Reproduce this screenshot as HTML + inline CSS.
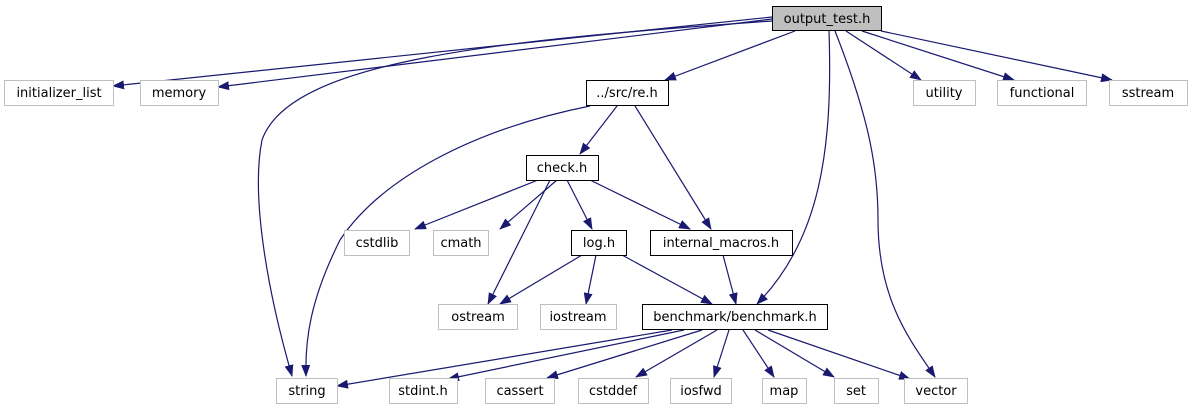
<!DOCTYPE html>
<html><head><meta charset="utf-8"><style>html,body{margin:0;padding:0;background:#fff}svg{display:block}</style></head><body>
<svg width="1191" height="411" xmlns="http://www.w3.org/2000/svg" font-family="DejaVu Sans, Liberation Sans, sans-serif" font-size="13">
<defs><marker id="a" markerWidth="12" markerHeight="9" refX="11" refY="4.5" orient="auto" markerUnits="userSpaceOnUse"><path d="M0,0 L12,4.5 L0,9 z" fill="#191970"/></marker></defs>
<g fill="none" stroke="#191970" stroke-width="1.2" marker-end="url(#a)">
<path d="M772,17 L113,86"/>
<path d="M772,19 L218,87"/>
<path d="M772,21 C500,40 290,60 262,140 C250,200 270,300 292,376"/>
<path d="M795,31 L665,80"/>
<path d="M829,31 C833,150 820,240 757,304"/>
<path d="M835,31 C870,120 878,170 878,220 C878,300 910,340 935,377"/>
<path d="M846,31 L921,80"/>
<path d="M862,31 L1014,80"/>
<path d="M881,31 L1112,80"/>
<path d="M617,106 L580,154"/>
<path d="M635,106 L711,229"/>
<path d="M590,106 C470,130 380,180 340,240 C310,300 305,340 306,376"/>
<path d="M538,180 L415,229"/>
<path d="M557,180 L500,229"/>
<path d="M550,180 L488,304"/>
<path d="M567,180 L592,229"/>
<path d="M590,180 L690,229"/>
<path d="M582,255 L500,304"/>
<path d="M596,255 L586,304"/>
<path d="M622,255 L712,304"/>
<path d="M723,255 L736,304"/>
<path d="M672,330 L337,386"/>
<path d="M684,330 L448,379"/>
<path d="M702,330 L547,378"/>
<path d="M717,330 L636,377"/>
<path d="M729,330 L714,377"/>
<path d="M743,330 L774,377"/>
<path d="M755,330 L834,377"/>
<path d="M768,330 L910,379"/>
</g>
<g stroke-width="1">
<rect x="772.5" y="6.5" width="109" height="24" fill="#bfbfbf" stroke="#000"/>
<g fill="#fff" stroke="#bfbfbf">
<rect x="4.5" y="80.5" width="109" height="25"/>
<rect x="140.5" y="80.5" width="78" height="25"/>
<rect x="913.5" y="80.5" width="62" height="25"/>
<rect x="997.5" y="80.5" width="89" height="25"/>
<rect x="1109.5" y="80.5" width="78" height="25"/>
<rect x="344.5" y="230.5" width="65" height="25"/>
<rect x="433.5" y="230.5" width="55" height="25"/>
<rect x="438.5" y="304.5" width="79" height="25"/>
<rect x="540.5" y="304.5" width="76" height="25"/>
<rect x="276.5" y="378.5" width="61" height="25"/>
<rect x="389.5" y="378.5" width="68" height="25"/>
<rect x="485.5" y="378.5" width="69" height="25"/>
<rect x="578.5" y="378.5" width="70" height="25"/>
<rect x="670.5" y="378.5" width="61" height="25"/>
<rect x="762.5" y="378.5" width="44" height="25"/>
<rect x="834.5" y="378.5" width="44" height="25"/>
<rect x="904.5" y="378.5" width="63" height="25"/>
</g>
<g fill="#fff" stroke="#000">
<rect x="586.5" y="80.5" width="82" height="25"/>
<rect x="526.5" y="155.5" width="72" height="25"/>
<rect x="571.5" y="230.5" width="55" height="25"/>
<rect x="650.5" y="230.5" width="142" height="25"/>
<rect x="642.5" y="304.5" width="185" height="25"/>
</g>
</g>
<g fill="#000" text-anchor="middle">
<text x="827" y="23">output_test.h</text>
<text x="59" y="97">initializer_list</text>
<text x="179" y="97">memory</text>
<text x="627" y="97">../src/re.h</text>
<text x="944" y="97">utility</text>
<text x="1042" y="97">functional</text>
<text x="1148" y="97">sstream</text>
<text x="562" y="172">check.h</text>
<text x="377" y="247">cstdlib</text>
<text x="461" y="247">cmath</text>
<text x="599" y="247">log.h</text>
<text x="721" y="247">internal_macros.h</text>
<text x="478" y="321">ostream</text>
<text x="578" y="321">iostream</text>
<text x="735" y="321">benchmark/benchmark.h</text>
<text x="307" y="395">string</text>
<text x="423" y="395">stdint.h</text>
<text x="520" y="395">cassert</text>
<text x="613" y="395">cstddef</text>
<text x="701" y="395">iosfwd</text>
<text x="784" y="395">map</text>
<text x="856" y="395">set</text>
<text x="936" y="395">vector</text>
</g>
</svg>
</body></html>
